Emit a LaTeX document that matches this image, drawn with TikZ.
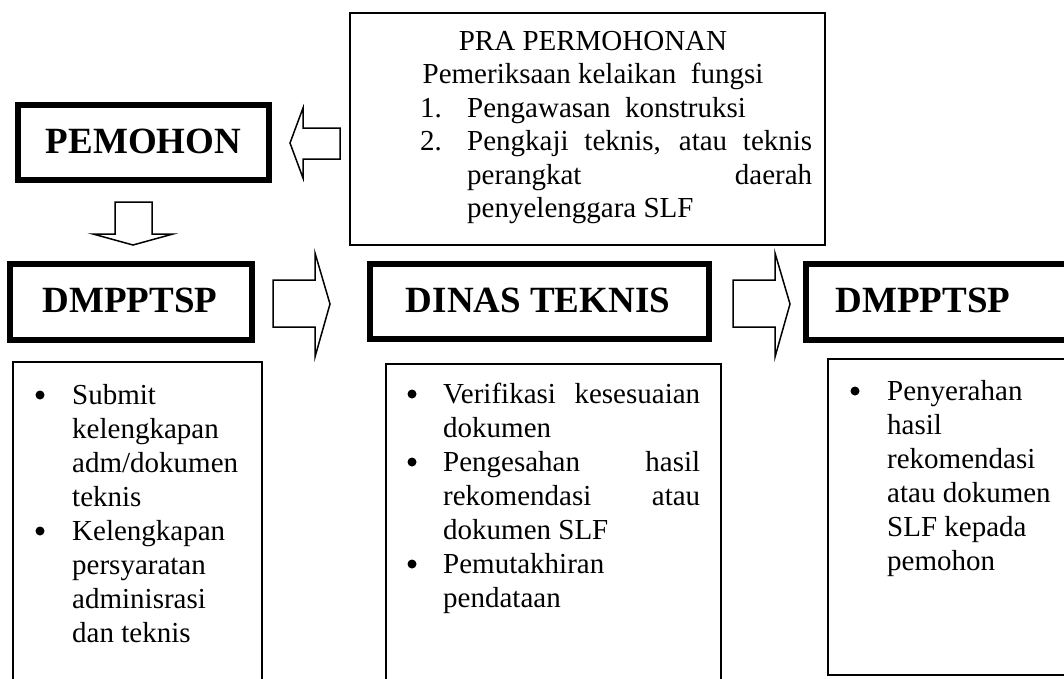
\documentclass[tikz,border=0pt]{standalone}
\usepackage{fontspec}
\setmainfont{Liberation Serif}
\newcommand\bodyfnt{\fontsize{29}{34}\selectfont}
\newcommand\headfnt{\fontsize{37}{40}\selectfont\bfseries}
\tikzset{
  thickbox/.style={draw, line width=6pt, inner sep=0pt},
  thinbox/.style={draw, line width=1.6pt},
  blockarrow/.style={draw, line width=1.5pt, line join=miter, fill=white},
  tl/.style={anchor=base west, inner sep=0pt, font=\bodyfnt},
  tc/.style={anchor=base, inner sep=0pt, font=\bodyfnt},
  hd/.style={anchor=base, inner sep=0pt, font=\headfnt},
  bul/.style={circle, fill=black, inner sep=0pt, minimum size=9pt},
}
\begin{document}
\begin{tikzpicture}[x=1pt,y=-1pt]
\clip (0,0) rectangle (1064,678);
\fill[white] (0,0) rectangle (1064,678);

% ---- heading boxes ----
\node[thickbox, minimum width=251pt, minimum height=75pt] (pemohon) at (143.5,142.5) {};
\node[hd] (pemohonT) at (143.5,153) {PEMOHON};

\node[thickbox, minimum width=242pt, minimum height=76pt] (dm1) at (131,302) {};
\node[hd] (dm1T) at (130,312) {DMPPTSP};

\node[thickbox, minimum width=339pt, minimum height=75pt] (dinas) at (539.5,301.5) {};
\node[hd] (dinasT) at (538,312) {DINAS TEKNIS};

\node[thickbox, minimum width=284pt, minimum height=76pt] (dm2) at (948,302) {};
\node[hd] (dm2T) at (923,312) {DMPPTSP};

% ---- PRA box ----
\node[thinbox, minimum width=475pt, minimum height=232pt, inner sep=0pt] (pra) at (587.5,129) {};
\node[tc] (praA) at (593,50) {PRA PERMOHONAN};
\node[tc] (praB) at (593,83.5) {Pemeriksaan kelaikan\ \ fungsi};
\node[tl] (praN1) at (420,117) {1.};
\node[tl] (praC) at (467,117) {Pengawasan\ \ konstruksi};
\node[tl] (praN2) at (420,150.5) {2.};
\node[tl] (praD) at (467,150.5) {\makebox[345pt][s]{Pengkaji teknis, atau teknis}};
\node[tl] (praE) at (467,184) {\makebox[345pt][s]{perangkat daerah}};
\node[tl] (praF) at (467,217.5) {penyelenggara SLF};

% ---- block arrows ----
\draw[blockarrow] (290,143) -- (303,108) -- (303,128) -- (340,128) -- (340,159) -- (303,159) -- (303,178) -- cycle;
\draw[blockarrow] (115,202) -- (152,202) -- (152,234) -- (173,234) -- (133,245) -- (93,234) -- (115,234) -- cycle;
\draw[blockarrow] (273,280) -- (315,280) -- (315,253) -- (330,304) -- (315,357) -- (315,327) -- (273,327) -- cycle;
\draw[blockarrow] (733,280) -- (775,280) -- (775,253) -- (790,304) -- (775,357) -- (775,327) -- (733,327) -- cycle;

% ---- lower boxes ----
\draw[thinbox] (13,700) -- (13,362) -- (262,362) -- (262,700);
\draw[thinbox] (386,700) -- (386,364) -- (721,364) -- (721,700);
\draw[thinbox] (1100,359) -- (828,359) -- (828,675) -- (1100,675);

% box 1
\node[bul] (b1a) at (40,395) {};
\node[tl] (l1a) at (72,404) {Submit};
\node[tl] (l1b) at (72,438) {kelengkapan};
\node[tl] (l1c) at (72,472) {adm/dokumen};
\node[tl] (l1d) at (72,506) {teknis};
\node[bul] (b1b) at (40,531) {};
\node[tl] (l1e) at (72,540) {Kelengkapan};
\node[tl] (l1f) at (72,574) {persyaratan};
\node[tl] (l1g) at (72,608) {adminisrasi};
\node[tl] (l1h) at (72,642) {dan teknis};

% box 2
\node[bul] (b2a) at (412,394) {};
\node[tl] (l2a) at (443,403) {\makebox[257pt][s]{Verifikasi kesesuaian}};
\node[tl] (l2b) at (443,437) {dokumen};
\node[bul] (b2b) at (412,462) {};
\node[tl] (l2c) at (443,471) {\makebox[257pt][s]{Pengesahan hasil}};
\node[tl] (l2d) at (443,505) {\makebox[257pt][s]{rekomendasi atau}};
\node[tl] (l2e) at (443,539) {dokumen SLF};
\node[bul] (b2c) at (412,564) {};
\node[tl] (l2f) at (443,573) {Pemutakhiran};
\node[tl] (l2g) at (443,607) {pendataan};

% box 3
\node[bul] (b3a) at (855,391) {};
\node[tl] (l3a) at (887,400) {Penyerahan};
\node[tl] (l3b) at (887,434) {hasil};
\node[tl] (l3c) at (887,468) {rekomendasi};
\node[tl] (l3d) at (887,502) {atau dokumen};
\node[tl] (l3e) at (887,536) {SLF kepada};
\node[tl] (l3f) at (887,570) {pemohon};
\end{tikzpicture}
\end{document}
